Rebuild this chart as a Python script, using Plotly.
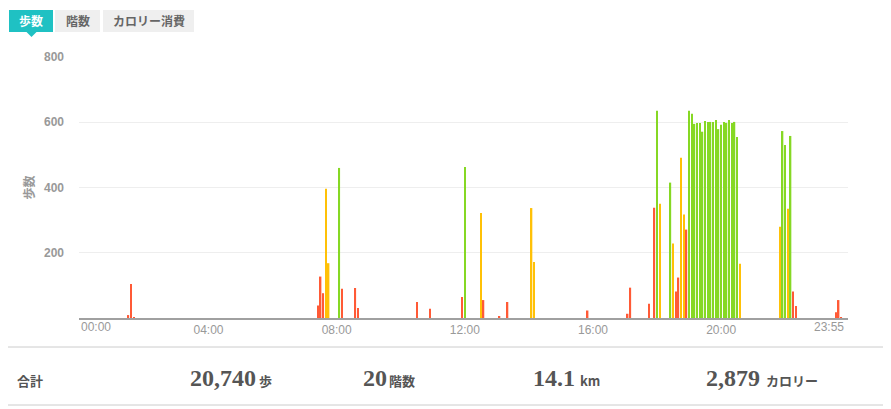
import plotly.graph_objects as go

# steps per 5-minute slot (only non-zero slots), intensity level per slot
times = ["01:30", "01:35", "01:40", "07:25", "07:30", "07:35", "07:40", "07:45",
         "08:05", "08:10", "08:35", "08:40", "10:30", "10:55", "11:55", "12:00",
         "12:30", "12:35", "13:05", "13:20", "14:05", "14:10", "15:50", "17:05",
         "17:10", "17:45", "17:55", "18:00", "18:05", "18:25", "18:30", "18:35",
         "18:40", "18:45", "18:50", "18:55", "19:00", "19:05", "19:10", "19:15",
         "19:20", "19:25", "19:30", "19:35", "19:40", "19:45", "19:50", "19:55",
         "20:00", "20:05", "20:10", "20:15", "20:20", "20:25", "20:30", "20:35",
         "21:50", "21:55", "22:00", "22:05", "22:10", "22:15", "22:20", "23:35",
         "23:40", "23:45"]
steps = [9, 104, 3, 38, 127, 76, 396, 168,
         460, 90, 92, 31, 49, 28, 64, 463,
         322, 55, 6, 49, 337, 172, 23, 13,
         93, 44, 338, 635, 350, 415, 228, 81,
         124, 491, 317, 271, 635, 626, 595, 598,
         598, 571, 604, 601, 601, 601, 607, 579,
         592, 601, 598, 607, 598, 601, 555, 166,
         280, 573, 530, 335, 558, 81, 37, 18,
         55, 3]
levels = ["low", "low", "low", "low", "low", "low", "mid", "mid",
          "high", "low", "low", "low", "low", "low", "low", "high",
          "mid", "low", "low", "low", "mid", "mid", "low", "low",
          "low", "low", "low", "high", "mid", "high", "mid", "low",
          "low", "mid", "mid", "low", "high", "high", "high", "high",
          "high", "high", "high", "high", "high", "high", "high", "high",
          "high", "high", "high", "high", "high", "high", "high", "mid",
          "mid", "high", "high", "mid", "high", "low", "low", "low",
          "low", "low"]

tabs = ["歩数", "階数", "カロリー消費"]
totals = ["20,740", "20", "14.1", "2,879"]
units = ["歩", "階数", "km", "カロリー"]
x_ticks = ["04:00", "08:00", "12:00", "16:00", "20:00"]

level_colors = {"low": "#ff5a36", "mid": "#ffc107", "high": "#86d824"}

# full day of 5-minute slots
slots = ["%02d:%02d" % (m // 60, m % 60) for m in range(0, 24 * 60, 5)]
lookup = dict(zip(times, zip(steps, levels)))
y_vals = [lookup[s][0] if s in lookup else 0 for s in slots]
colors = [level_colors[lookup[s][1]] if s in lookup else "#ffffff" for s in slots]

# page has an 8px body margin, so lay everything out 8px up/left
O = 8
W, H = 891 - O, 409 - O
L, R, T, B = 79 - O, 848 - O, 57 - O, 318 - O


def px(x):
    return (x - O - L) / (R - L)


def py(y):
    return (B - (y - O)) / (B - T)


fig = go.Figure(go.Bar(x=slots, y=y_vals, marker_color=colors,
                       marker_line_width=0, hovertemplate="%{x}: %{y}<extra></extra>"))

font = "Liberation Sans, Noto Sans CJK JP"
cjk = "Noto Sans CJK JP"

fig.update_layout(
    width=W, height=H,
    margin=dict(l=L, r=W - R, t=T, b=H - B),
    paper_bgcolor="white", plot_bgcolor="white",
    bargap=0.45, showlegend=False,
    font=dict(family=font, color="#999999"),
)
fig.update_xaxes(
    type="category", categoryorder="array", categoryarray=slots,
    tickvals=x_ticks, ticktext=x_ticks, ticks="", showgrid=False,
    showline=True, linecolor="#a0a0a0", linewidth=1.5,
    tickfont=dict(size=12, color="#999999"),
)
fig.update_yaxes(
    range=[0, 800], tickvals=[200, 400, 600, 800], showgrid=True,
    gridcolor="#eeeeee", zeroline=False, showline=False, ticks="",
    ticklabelstandoff=14,
    tickfont=dict(size=12, color="#999999", weight="bold"),
    title=dict(text="歩数", standoff=6,
               font=dict(size=12, color="#999999", family=cjk, weight="bold")),
)

# x tick labels at the two ends
fig.add_annotation(x=0, y=py(327), xref="paper", yref="paper", text="00:00",
                   showarrow=False, xanchor="left", yanchor="middle",
                   font=dict(size=12, color="#999999"))
fig.add_annotation(x=px(846), y=py(327), xref="paper", yref="paper", text="23:55",
                   showarrow=False, xanchor="right", yanchor="middle",
                   font=dict(size=12, color="#999999"))

# tab buttons
tab_boxes = [(9, 53), (55, 100), (103, 194)]
for i, (name, (x0, x1)) in enumerate(zip(tabs, tab_boxes)):
    active = i == 0
    fig.add_shape(type="rect", xref="paper", yref="paper",
                  x0=px(x0), x1=px(x1), y0=py(32), y1=py(10),
                  fillcolor="#1fc1c3" if active else "#efefef", line_width=0)
    fig.add_annotation(x=px((x0 + x1) / 2), y=py(21), xref="paper", yref="paper",
                       text=name, showarrow=False, xanchor="center", yanchor="middle",
                       font=dict(size=12, family=cjk, weight="bold",
                                 color="white" if active else "#666666"))
fig.add_shape(type="path", xref="paper", yref="paper",
              path="M %f %f L %f %f L %f %f Z" % (px(26), py(31.5), px(37), py(31.5),
                                                 px(31.5), py(37)),
              fillcolor="#1fc1c3", line_width=0)

# summary row
for yy in (347, 405):
    fig.add_shape(type="line", xref="paper", yref="paper",
                  x0=px(8), x1=px(884), y0=py(yy), y1=py(yy),
                  line=dict(color="#cccccc", width=1))
fig.add_annotation(x=px(15), y=py(380), xref="paper", yref="paper", text="合計",
                   showarrow=False, xanchor="left", yanchor="middle",
                   font=dict(size=13, family=cjk, weight="bold", color="#555555"))
num_x = [188, 361, 531, 704]
unit_x = [257, 387, 578, 764]
for val, unit, nx, ux in zip(totals, units, num_x, unit_x):
    fig.add_annotation(x=px(nx), y=py(378), xref="paper", yref="paper", text=val,
                       showarrow=False, xanchor="left", yanchor="middle",
                       font=dict(size=24, family="Liberation Serif", weight="bold",
                                 color="#555555"))
    fig.add_annotation(x=px(ux), y=py(380), xref="paper", yref="paper", text=unit,
                       showarrow=False, xanchor="left", yanchor="middle",
                       font=dict(size=13, family=cjk, weight="bold", color="#555555"))

fig.write_html("out.html")
